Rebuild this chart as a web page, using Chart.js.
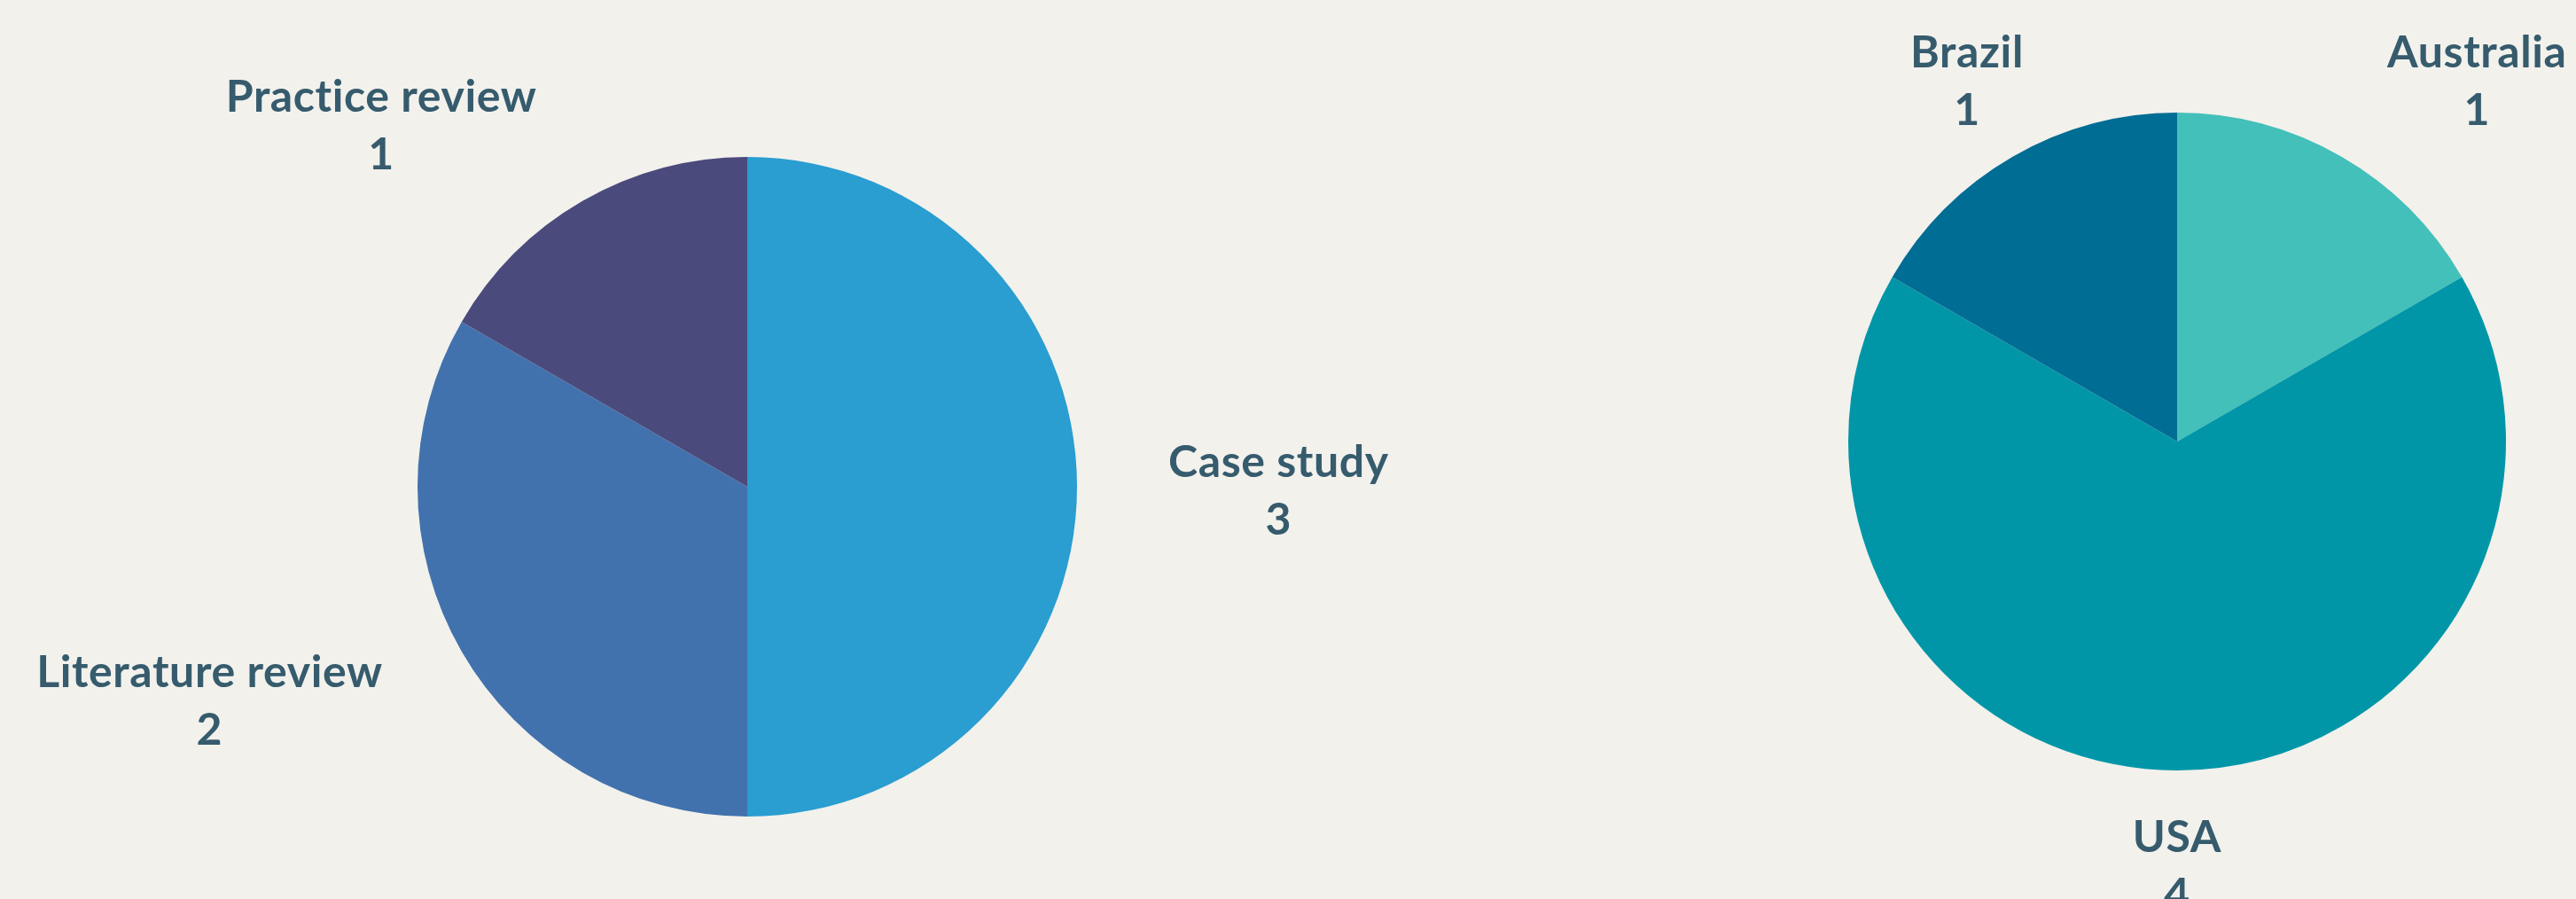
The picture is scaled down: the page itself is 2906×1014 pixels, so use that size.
<!DOCTYPE html>
<html>
<head>
<meta charset="utf-8">
<script src="https://cdn.jsdelivr.net/npm/chart.js@4"></script>
<style>
  html, body { margin: 0; padding: 0; background: #f2f1ec; }
  .wrap { position: absolute; top: 0; height: 1014px; }
  #leftWrap { left: 0; width: 1700px; }
  #rightWrap { left: 1453px; width: 1453px; }
</style>
</head>
<body>
<div class="wrap" id="leftWrap"><canvas id="typeChart"></canvas></div>
<div class="wrap" id="rightWrap"><canvas id="countryChart"></canvas></div>
<script>
// study types
const typeLabels = ['Case study', 'Literature review', 'Practice review'];
const typeValues = [3, 2, 1];
const typeColors = ['#2a9dd1', '#4272ad', '#4a4a7c'];
const typeAlign = ['left', 'right', 'right'];

// countries
const countryLabels = ['Australia', 'USA', 'Brazil'];
const countryValues = [1, 4, 1];
const countryColors = ['#43c0b9', '#0096a8', '#006d94'];
const countryAlign = ['left', 'center', 'center'];

const textColor = '#365b6d';

// draws "label / value" outside each slice
const outsideLabels = {
    id: 'outsideLabels',
    afterDatasetsDraw(chart, args, opts) {
        const ctx = chart.ctx;
        const meta = chart.getDatasetMeta(0);
        const ds = chart.data.datasets[0];
        ctx.save();
        ctx.font = 'bold 50px Lato';
        ctx.letterSpacing = '0.6px'; // also stops the "ti" ligature
        ctx.fillStyle = textColor;
        ctx.textAlign = 'center';
        ctx.textBaseline = 'middle';
        meta.data.forEach((arc, i) => {
            const p = arc.getProps(['x', 'y', 'startAngle', 'endAngle', 'outerRadius'], true);
            const mid = (p.startAngle + p.endAngle) / 2;
            const r = p.outerRadius + opts.offset;
            const px = p.x + Math.cos(mid) * r;
            const py = p.y + Math.sin(mid) * r + opts.shiftY;
            const lines = [chart.data.labels[i], String(ds.data[i])];
            const w = Math.max(...lines.map(t => ctx.measureText(t).width));
            let cx = px;
            if (opts.align[i] === 'left') cx = px + w / 2;
            if (opts.align[i] === 'right') cx = px - w / 2;
            ctx.fillText(lines[0], cx, py - opts.lineHeight / 2);
            ctx.fillText(lines[1], cx, py + opts.lineHeight / 2);
        });
        ctx.restore();
    }
};

function makePie(id, labels, values, colors, align, padding) {
    const ctx = document.getElementById(id).getContext('2d');
    return new Chart(ctx, {
        type: 'pie',
        data: {
            labels: labels,
            datasets: [{
                data: values,
                backgroundColor: colors,
                borderWidth: 0
            }]
        },
        options: {
            responsive: true,
            maintainAspectRatio: false,
            animation: false,
            layout: { padding: padding },
            plugins: {
                legend: { display: false },
                tooltip: { enabled: false },
                outsideLabels: { offset: 103, lineHeight: 65, shiftY: 5, align: align }
            }
        },
        plugins: [outsideLabels]
    });
}

makePie('typeChart', typeLabels, typeValues, typeColors, typeAlign,
    { left: 471, right: 485, top: 177, bottom: 93 });
makePie('countryChart', countryLabels, countryValues, countryColors, countryAlign,
    { left: 632, right: 79, top: 127, bottom: 145 });
</script>
</body>
</html>
